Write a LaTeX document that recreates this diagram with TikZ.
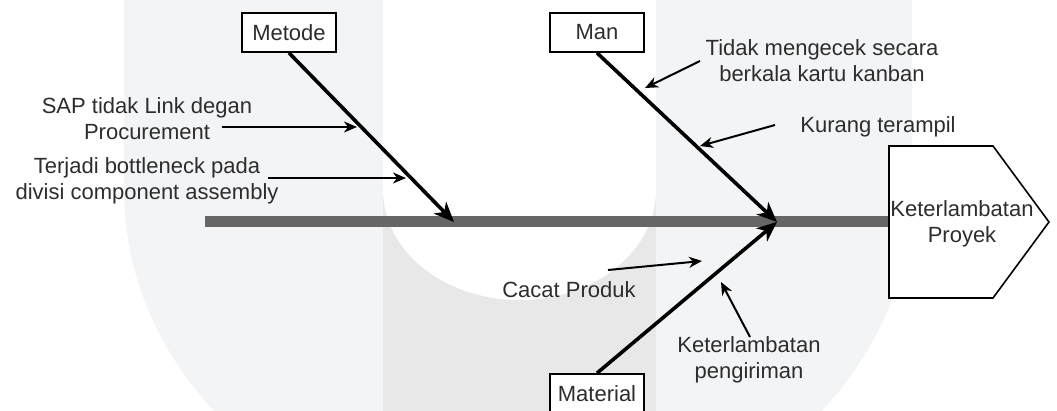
\documentclass[tikz,border=0pt]{standalone}
\usepackage{fontspec}
\setmainfont{Liberation Sans}
\usetikzlibrary{arrows.meta}
\definecolor{wmlight}{RGB}{243,244,246}
\definecolor{wmdark}{RGB}{232,232,232}
\definecolor{spinegray}{RGB}{102,102,102}
\definecolor{txt}{RGB}{45,45,45}
\begin{document}
\begin{tikzpicture}[x=1pt,y=-1pt,
  lbl/.style={font=\fontsize{22}{26}\selectfont, text=txt, align=center, inner sep=0pt},
  catbox/.style={draw=black, line width=1.8pt, fill=white, minimum width=94pt, minimum height=39pt, inner sep=0pt, font=\fontsize{22}{26}\selectfont, text=txt},
  mainarrow/.style={draw=black, line width=3.6pt, -{Stealth[length=20pt,width=17pt,inset=6pt]}},
  subarrow/.style={draw=black, line width=2pt, -{Stealth[length=13pt,width=11pt,inset=4pt]}},
]
\useasboundingbox (0,0) rectangle (1057,411);
% faint background watermark
\begin{scope}
  \clip (0,0) rectangle (1057,411);
  \fill[wmlight] (124,0) rectangle (912,190);
  \fill[wmlight] (518,190) ellipse[x radius=394, y radius=347];
  \fill[wmdark] (383,0) rectangle (656,411);
  \fill[white] (383,0) rectangle (656,190);
  \fill[white] (519.5,190) ellipse[x radius=136.5, y radius=110];
\end{scope}
% spine
\coordinate (spinetail) at (205,222);
\coordinate (head) at (889,222);
\draw[spinegray, line width=11pt] (spinetail) -- (head);
% effect
\draw[line width=1.6pt, fill=white] (889,146) -- (993,146) -- (1049,222) -- (993,298) -- (889,298) -- cycle;
\node[lbl] (effect) at (962,223.5) {Keterlambatan\\Proyek};
% category boxes
\node[catbox] (metode) at (289,32.5) {Metode};
\node[catbox] (man) at (597,32.5) {Man};
\node[catbox] (material) at (597,393.5) {Material};
% main bones
\coordinate (j1) at (454,222);
\coordinate (j2) at (777,222);
\draw[mainarrow] (metode.south) -- (j1);
\draw[mainarrow] (man.south) -- (j2);
\draw[mainarrow] (material.north) -- (j2);
% causes
\node[lbl] (sap) at (147,118.5) {SAP tidak Link degan\\Procurement};
\node[lbl] (bottle) at (147,181) {Terjadi bottleneck pada\\divisi component assembly};
\node[lbl] (tidak) at (822,61) {Tidak mengecek secara\\berkala kartu kanban};
\node[lbl] (kurang) at (878,127) {Kurang terampil};
\node[lbl] (cacat) at (569,290) {Cacat Produk};
\node[lbl] (kirim) at (749,360) {Keterlambatan\\pengiriman};
\coordinate (sapT) at (222,127);   \coordinate (sapH) at (357,127);
\coordinate (botT) at (268,178);   \coordinate (botH) at (406,178);
\coordinate (tidT) at (700,61);    \coordinate (tidH) at (645,88);
\coordinate (kurT) at (775,125);   \coordinate (kurH) at (700,146);
\coordinate (cacT) at (608,270);   \coordinate (cacH) at (702,261);
\coordinate (kirT) at (750,337);   \coordinate (kirH) at (721,282);
\draw[subarrow] (sapT) -- (sapH);
\draw[subarrow] (botT) -- (botH);
\draw[subarrow] (tidT) -- (tidH);
\draw[subarrow] (kurT) -- (kurH);
\draw[subarrow] (cacT) -- (cacH);
\draw[subarrow] (kirT) -- (kirH);
\end{tikzpicture}
\end{document}
